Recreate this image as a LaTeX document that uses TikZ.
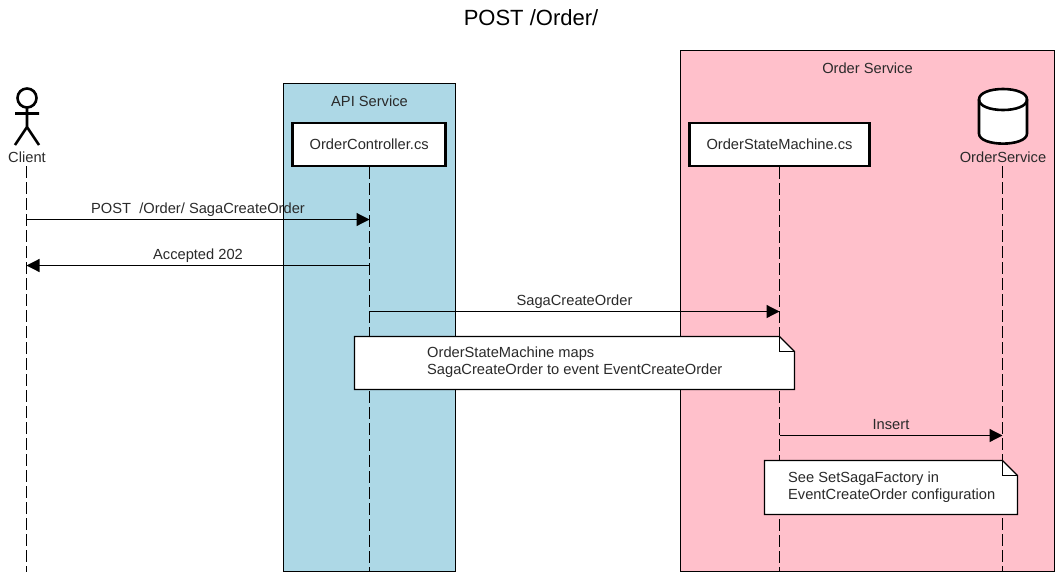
\documentclass[tikz,border=0pt]{standalone}
\usepackage{fontspec}
\setmainfont{Liberation Sans}
\usetikzlibrary{arrows.meta,calc}
\definecolor{apiblue}{HTML}{ADD8E6}
\definecolor{orderpink}{HTML}{FFC0CB}
\definecolor{txt}{HTML}{2A2A2A}
\tikzset{
  x=1pt,y=-1pt,
  lbl/.style={font=\fontsize{14.67}{17}\selectfont,text=txt,inner sep=0pt},
  service/.style={draw=black,line width=1.2pt,minimum width=0pt},
  classbox/.style={draw=black,fill=white,line width=2.6pt,lbl,anchor=center},
  lifeline/.style={draw=black,line width=1.2pt,dash pattern=on 12pt off 4pt},
  msg/.style={draw=black,line width=1.2pt,-{Triangle[length=13pt,width=13pt]}},
  notebox/.style={draw=black,fill=white,line width=1.2pt,line join=miter},
  shapeline/.style={draw=black,line width=2.6pt},
}
\begin{document}
\begin{tikzpicture}
\useasboundingbox (0,0) rectangle (1062,579);
\begin{scope}[shift={(-0.5,-0.5)}]
% title
\node[lbl,font=\fontsize{22}{26}\selectfont,text=black] (title) at (531.5,18.5) {POST /Order/};
% service frames
\path[service,fill=apiblue] (284,84) rectangle (456,572);
\path[service,fill=orderpink] (681,51) rectangle (1055,572);
\node[lbl] (apilabel) at (370,102) {API Service};
\node[lbl] (orderlabel) at (868,69) {Order Service};
% participants
\node[classbox,minimum width=153pt,minimum height=43pt] (ctrl) at (369.7,145) {OrderController.cs};
\node[classbox,minimum width=180pt,minimum height=43pt] (osm) at (780,145) {OrderStateMachine.cs};
\node[lbl] (client) at (27.5,157.5) {Client};
\node[lbl] (db) at (1003.5,157.5) {OrderService};
% actor
\draw[shapeline] (27.5,98.5) circle (9.5);
\draw[shapeline] (27.5,108) -- (27.5,127.5) (15.5,114) -- (39.5,114) (15.5,145.5) -- (27.5,127.5) -- (39.5,145.5);
% database
\draw[shapeline,fill=white] (979.5,100) .. controls (979.5,86) and (1027.5,86) .. (1027.5,100) -- (1027.5,134) .. controls (1027.5,147.5) and (979.5,147.5) .. (979.5,134) -- cycle;
\draw[shapeline] (979.5,100) .. controls (979.5,114) and (1027.5,114) .. (1027.5,100);
% lifeline ends
\coordinate (clientend) at (27,572);
\coordinate (ctrlend) at (370,572);
\coordinate (osmend) at (780,572);
\coordinate (dbend) at (1003,572);
\coordinate (clienttop) at (27,166.5);
\coordinate (dbtop) at (1003,166.5);
\draw[lifeline] (clienttop) -- (clientend);
\draw[lifeline] (ctrl.south -| ctrlend) -- (ctrlend);
\draw[lifeline] (osm.south -| osmend) -- (osmend);
\draw[lifeline] (dbtop) -- (dbend);
% messages
\coordinate (m1a) at (27,220); \coordinate (m1b) at (370,220);
\coordinate (m2a) at (370,266); \coordinate (m2b) at (27,266);
\coordinate (m3a) at (370,312); \coordinate (m3b) at (780,312);
\coordinate (m4a) at (780,436); \coordinate (m4b) at (1003,436);
\draw[msg] (m1a) -- node[lbl,pos=.5,yshift=10pt] (m1l) {POST\ \ /Order/ SagaCreateOrder} (m1b);
\draw[msg] (m2a) -- node[lbl,pos=.5,yshift=9.5pt] (m2l) {Accepted 202} (m2b);
\draw[msg] (m3a) -- node[lbl,pos=.5,yshift=10pt] (m3l) {SagaCreateOrder} (m3b);
\draw[msg] (m4a) -- node[lbl,pos=.5,yshift=11pt] (m4l) {Insert} (m4b);
% notes
\draw[notebox] (355,337) -- (780,337) -- (795,352) -- (795,390) -- (355,390) -- cycle;
\draw[notebox,fill=none] (780,337) -- (780,352) -- (795,352);
\node[lbl,anchor=west,align=left] (n1) at (427.5,363) {OrderStateMachine maps\\SagaCreateOrder to event EventCreateOrder};
\draw[notebox] (765,461) -- (1003,461) -- (1018,476) -- (1018,515) -- (765,515) -- cycle;
\draw[notebox,fill=none] (1003,461) -- (1003,476) -- (1018,476);
\node[lbl,anchor=west,align=left] (n2) at (788.5,487.5) {See SetSagaFactory in\\EventCreateOrder configuration};
\end{scope}
\end{tikzpicture}
\end{document}
